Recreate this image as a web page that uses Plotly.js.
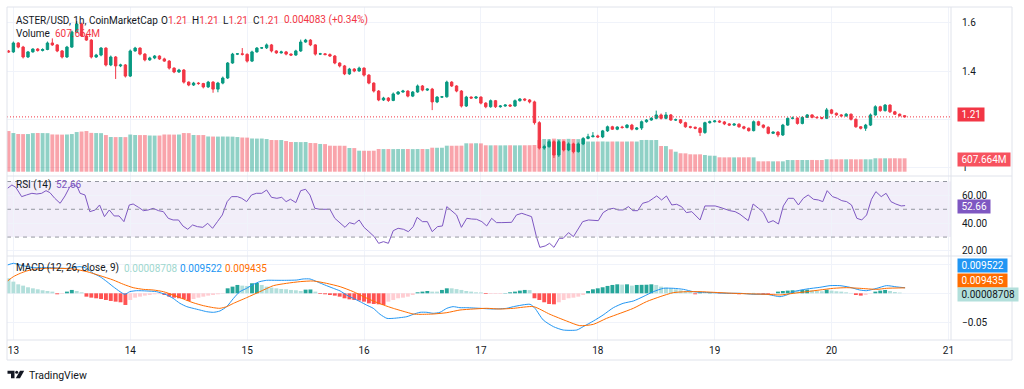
<!DOCTYPE html>
<html><head><meta charset="utf-8">
<script src="https://cdn.plot.ly/plotly-3.0.1.min.js"></script>
<style>html,body{margin:0;padding:0;background:#fff;}#chart{width:1024px;height:389px;}</style>
</head><body><div id="chart"></div>
<script>
// ---- data (hourly candles, index 0 = 12th 23:00) ----
const dayTicks = [1, 25, 49, 73, 97, 121, 145, 169, 193];
const dayLabels = ['13', '14', '15', '16', '17', '18', '19', '20', '21'];
const priceTicks = [1.0, 1.2, 1.4, 1.6];
const priceTickText = ['1', '', '1.4', '1.6'];      // 1.2 sits under the last-price tag
const rsiTicks = [20, 40, 60];
const rsiTickText = ['20.00', '40.00', '60.00'];
const macdTicks = [-0.05, 0, 0.05];
const macdTickText = ['\u22120.05', '', ''];       // 0 and 0.05 sit under the value tags

const firstOpen = 1.483;
const closes = [
1.479,1.516,1.499,1.458,1.479,1.491,1.485,1.489,1.516,1.508,
1.483,1.458,1.499,1.562,1.595,1.545,1.528,1.458,1.466,1.495,
1.425,1.458,1.421,1.425,1.379,1.483,1.495,1.470,1.446,1.454,
1.462,1.450,1.441,1.412,1.396,1.404,1.354,1.342,1.350,1.348,
1.334,1.354,1.325,1.350,1.371,1.433,1.470,1.471,1.469,1.441,
1.479,1.495,1.496,1.508,1.483,1.475,1.479,1.470,1.466,1.483,
1.520,1.528,1.508,1.470,1.471,1.468,1.462,1.433,1.421,1.388,
1.408,1.400,1.412,1.383,1.350,1.317,1.280,1.288,1.278,1.305,
1.313,1.317,1.296,1.313,1.338,1.321,1.325,1.272,1.292,1.293,
1.354,1.338,1.317,1.255,1.292,1.288,1.292,1.267,1.252,1.277,
1.252,1.255,1.259,1.255,1.277,1.284,1.280,1.272,1.186,1.081,
1.087,1.107,1.052,1.107,1.073,1.098,1.066,1.098,1.121,1.128,
1.131,1.127,1.152,1.169,1.159,1.168,1.166,1.176,1.159,1.164,
1.190,1.197,1.204,1.218,1.204,1.218,1.197,1.198,1.186,1.169,
1.167,1.163,1.145,1.186,1.190,1.193,1.189,1.181,1.176,1.180,
1.169,1.163,1.153,1.190,1.176,1.167,1.142,1.147,1.135,1.176,
1.204,1.205,1.183,1.208,1.218,1.208,1.207,1.204,1.239,1.225,
1.218,1.214,1.221,1.200,1.169,1.163,1.176,1.218,1.252,1.236,
1.259,1.231,1.221,1.215,1.210];
// wick lengths beyond the body, in thousandths of a dollar
const wickUp = [
4,6,3,5,4,3,4,5,6,19, 3,4,5,6,12,5,8,4,5,4, 3,6,4,5,4,6,5,3,4,5,
4,3,5,4,3,5,4,3,5,4, 3,5,4,5,6,4,5,3,24,4, 5,4,3,6,4,3,5,4,3,5,
10,5,4,3,4,3,5,4,3,4, 5,4,6,3,4,3,4,5,4,6, 4,5,3,4,6,4,3,5,4,3,
6,4,3,4,5,3,4,3,4,5, 3,4,3,4,5,4,3,4,5,6, 8,10,6,7,4,6,5,6,5,12,
16,5,4,5,4,3,5,4,5,4, 5,4,5,18,6,12,4,5,3,4, 4,3,5,4,5,4,3,4,3,4,
3,4,3,5,4,3,4,3,4,5, 4,6,3,5,4,3,4,3,8,4, 3,4,5,3,4,3,5,6,6,4,
4,3,4,3,2];
const wickDown = [
3,4,5,6,4,3,5,4,3,4, 5,6,4,3,5,4,3,6,4,5, 6,5,54,5,6,4,3,5,6,4,
5,4,3,6,5,4,6,5,4,5, 6,4,15,13,5,4,3,4,5,6, 4,3,4,5,6,4,3,5,4,3,
4,3,5,6,4,3,4,5,6,5, 4,5,3,6,5,6,5,4,6,3, 4,3,5,4,3,5,4,34,5,4,
3,4,5,6,4,3,4,5,6,4, 5,4,3,4,3,4,5,6,8,6, 7,5,12,8,6,5,7,4,5,4,
3,4,5,4,3,4,5,4,5,4, 8,4,3,4,5,4,3,4,5,4, 5,4,14,5,4,3,4,5,4,3,
4,5,4,3,4,5,4,3,9,4, 3,4,5,4,3,4,5,4,3,4, 4,3,4,5,4,5,11,4,3,5,
4,5,3,4,2];
// volume, millions
const volumes = [
1844,1753,1710,1705,1708,1750,1755,1752,1748,1690,
1685,1682,1688,1708,1798,1821,1844,1760,1753,1748,
1662,1575,1570,1572,1568,1685,1665,1660,1662,1642,
1638,1640,1688,1685,1682,1686,1753,1750,1665,1660,
1662,1598,1595,1592,1596,1594,1590,1572,1550,1546,
1506,1502,1504,1481,1438,1434,1436,1391,1348,1345,
1342,1346,1302,1298,1258,1252,1180,1176,1178,1175,
1076,1072,952,950,948,953,1030,1026,1028,1025,
1030,1027,1029,1024,1028,1031,1026,1088,1085,1087,
1180,1176,1178,1181,1288,1285,1290,1284,1198,1195,
1197,1193,1196,1199,1194,1196,1198,1200,1210,1436,
1481,1470,1500,1480,1475,1490,1484,1478,1486,1370,
1366,1368,1372,1365,1369,1370,1366,1368,1371,1367,
1436,1440,1434,1438,1166,1162,1015,906,836,832,
790,786,788,757,727,723,654,650,652,649,
653,651,655,650,472,470,473,469,471,470,
532,528,530,531,529,533,527,530,564,560,
562,563,561,565,559,562,563,561,609,606,
608,607,610,605,607.664];

const rsiHour = [-0.2,0.7,1.5,2.7,3.7,4.8,5.8,6.8,7.7,8.5,9.5,10.6,11.6,12.6,13.3,14.1,14.7,15.7,16.7,17.8,
18.7,19.7,20.7,21.7,22.7,23.7,24.8,25.6,26.7,27.7,28.7,29.7,30.8,31.8,32.8,33.8,34.9,35.8,36.8,37.8,
38.8,39.9,40.9,41.9,42.9,43.9,44.9,45.8,47.0,47.9,48.9,49.9,50.9,52.0,53.0,54.0,55.1,56.1,57.0,57.9,
59.0,60.0,61.0,61.9,62.9,63.9,65.0,66.0,67.0,68.1,69.1,70.0,71.0,72.0,73.0,74.0,75.1,76.0,77.0,78.0,
79.0,80.0,81.1,82.1,83.1,83.9,85.0,86.0,87.0,88.1,89.1,90.0,91.0,92.0,93.0,94.1,95.1,96.1,97.2,98.2,
99.2,100.2,101.3,102.3,103.3,104.3,105.4,106.4,107.4,108.4,109.1,110.2,111.1,112.0,113.1,113.9,115.0,116.0,117.9,119.1,
120.1,121.1,122.1,123.2,124.2,125.2,126.2,127.3,128.2,129.2,130.2,131.4,132.4,133.1,134.1,135.1,136.2,137.2,138.2,139.2,
140.3,142.0,143.0,144.0,145.1,146.1,147.1,148.1,149.2,150.2,151.9,152.9,154.0,155.0,156.0,157.0,158.1,159.1,160.1,161.2,
162.2,163.2,164.2,165.3,166.3,167.2,168.1,169.2,170.2,171.1,172.1,173.1,174.2,175.2,176.2,177.2,178.1,179.2,180.2,181.2,
182.2,183.3,184.1];
const rsiValue = [65.1,67.5,65.8,59.1,60.3,61.5,61.0,61.5,63.4,62.0,57.9,54.3,59.6,66.3,67.5,66.3,61.5,60.3,48.3,49.5,
53.1,44.7,49.5,45.2,45.2,41.1,53.1,53.8,51.4,49.0,49.5,50.7,49.0,48.3,43.5,42.3,42.3,38.0,35.6,38.7,
37.5,37.0,39.9,36.3,41.1,45.9,55.5,59.1,59.1,57.9,55.5,60.3,61.5,61.5,63.9,58.6,57.9,58.6,55.5,57.2,
54.8,63.4,64.4,60.3,50.7,50.0,50.0,50.0,43.5,40.4,37.0,40.4,39.4,42.3,37.0,33.9,30.3,25.5,26.7,25.5,
34.6,36.3,35.6,33.9,37.5,44.2,41.1,41.1,33.9,37.5,38.0,51.9,49.0,45.9,37.0,43.5,43.0,42.8,41.1,38.0,
43.5,40.4,40.4,40.6,40.6,45.9,47.1,45.9,44.7,30.3,22.6,23.6,25.5,22.6,29.1,29.1,33.2,30.3,41.1,42.3,
41.8,41.8,47.6,50.0,50.7,49.5,49.5,51.9,49.0,49.0,54.3,55.5,57.9,59.6,56.7,59.6,53.1,53.6,51.9,47.6,
48.3,42.3,52.4,52.6,52.4,51.4,50.0,49.0,48.3,46.4,41.8,53.8,50.7,47.6,40.4,41.8,39.4,52.4,57.9,57.9,
53.1,57.9,60.3,57.2,56.7,55.5,63.4,59.1,57.9,56.2,55.5,53.1,43.5,42.3,45.9,57.2,62.7,59.1,61.5,55.5,
53.8,52.4,52.66];

const macdHour = [-0.2,1.0,2.4,5.1,8.5,11.9,14.7,16.1,17.4,18.8,20.2,21.5,22.9,23.9,24.9,26.3,28.4,30.4,32.5,33.8,
35.2,36.6,37.9,39.3,40.7,42.1,43.4,44.8,46.2,47.5,48.9,50.3,51.6,53.0,55.1,57.1,59.2,60.5,61.9,63.3,
65.3,66.7,68.1,69.4,70.8,72.2,73.5,74.9,76.3,77.7,79.0,80.4,81.8,83.1,84.5,85.9,87.2,88.6,90.0,91.3,
92.7,94.1,96.8,99.6,102.3,103.7,107.1,108.1,109.8,111.9,113.9,116.7,118.0,120.1,122.1,124.2,126.2,128.3,130.3,132.4,
134.5,136.5,138.6,140.6,142.0,144.7,147.5,150.2,152.9,155.7,158.4,159.8,161.2,163.9,166.6,168.7,170.7,172.8,174.8,176.2,
178.3,180.3,182.4,184.1];
const macdValue = [0.0488,0.0517,0.0488,0.0442,0.0442,0.0430,0.0459,0.0430,0.0344,0.0287,0.0201,0.0114,0.0028,-0.0018,0.0028,0.0045,0.0040,0.0028,-0.0029,-0.0087,
-0.0173,-0.0230,-0.0259,-0.0288,-0.0317,-0.0328,-0.0305,-0.0230,-0.0087,0.0028,0.0086,0.0155,0.0201,0.0224,0.0224,0.0224,0.0229,0.0247,0.0247,0.0201,
0.0132,0.0086,0.0040,-0.0029,-0.0087,-0.0144,-0.0202,-0.0259,-0.0363,-0.0432,-0.0432,-0.0420,-0.0403,-0.0363,-0.0328,-0.0328,-0.0345,-0.0328,-0.0259,-0.0230,
-0.0248,-0.0248,-0.0259,-0.0271,-0.0259,-0.0230,-0.0190,-0.0259,-0.0460,-0.0575,-0.0633,-0.0633,-0.0575,-0.0478,-0.0374,-0.0248,-0.0173,-0.0133,-0.0058,0.0028,
0.0086,0.0086,0.0068,0.0028,0.0017,0.0011,0.0000,0.0000,-0.0017,-0.0017,-0.0058,-0.0029,0.0028,0.0074,0.0103,0.0132,0.0132,0.0103,0.0057,0.0045,
0.0086,0.0132,0.0110,0.009522];
const signalHour = [-0.2,1.0,2.4,3.7,5.1,7.8,10.6,13.3,16.1,18.8,21.5,23.6,25.6,27.7,29.7,31.8,33.8,35.9,37.9,40.0,
42.1,43.4,44.8,46.2,48.9,51.6,54.4,57.1,59.9,62.6,65.3,68.1,70.8,72.9,74.9,77.0,79.0,81.8,83.1,84.5,
87.2,90.0,92.7,95.4,98.2,100.9,103.7,107.8,111.2,114.6,117.3,120.1,122.8,125.6,128.3,131.0,133.8,136.5,139.2,142.0,
144.7,148.8,152.9,155.7,158.4,161.2,163.9,166.6,169.4,172.1,174.8,178.3,180.3,184.1];
const signalValue = [0.0212,0.0287,0.0344,0.0384,0.0413,0.0430,0.0430,0.0419,0.0373,0.0304,0.0229,0.0155,0.0097,0.0068,0.0057,0.0028,-0.0029,-0.0098,-0.0162,-0.0213,
-0.0248,-0.0259,-0.0230,-0.0173,-0.0075,0.0028,0.0132,0.0172,0.0201,0.0212,0.0172,0.0114,0.0028,-0.0058,-0.0133,-0.0202,-0.0259,-0.0328,-0.0357,-0.0363,
-0.0357,-0.0334,-0.0288,-0.0271,-0.0259,-0.0271,-0.0259,-0.0230,-0.0363,-0.0478,-0.0558,-0.0535,-0.0432,-0.0345,-0.0259,-0.0144,-0.0058,0.0011,0.0028,0.0028,
0.0017,0.0000,-0.0011,-0.0017,-0.0029,0.0000,0.0028,0.0057,0.0086,0.0097,0.0086,0.0068,0.0086,0.009435];
const histValue = [
0.0259,0.0201,0.0155,0.0132,0.0104,0.0086,0.0069,0.0052,0.0040,0.0029,
-0.0017,-0.0010,0.0029,0.0058,0.0040,0.0017,-0.0058,-0.0075,-0.0086,-0.0098,
-0.0115,-0.0132,-0.0144,-0.0155,-0.0201,-0.0115,-0.0075,-0.0058,-0.0040,-0.0029,
-0.0017,-0.0014,-0.0029,-0.0058,-0.0075,-0.0086,-0.0098,-0.0132,-0.0098,-0.0075,
-0.0058,-0.0040,-0.0029,-0.0017,-0.0006,0.0086,0.0115,0.0144,0.0132,0.0127,
0.0173,0.0178,0.0144,0.0115,0.0098,0.0086,0.0075,0.0070,0.0058,0.0052,
0.0040,0.0063,0.0066,0.0029,-0.0012,-0.0017,-0.0029,-0.0040,-0.0058,-0.0086,
-0.0104,-0.0115,-0.0125,-0.0144,-0.0173,-0.0184,-0.0190,-0.0201,-0.0144,-0.0115,
-0.0086,-0.0075,-0.0058,-0.0029,0.0017,0.0029,0.0040,0.0029,0.0029,0.0058,
0.0086,0.0086,0.0072,0.0058,0.0040,0.0029,0.0017,0.0015,-0.0012,-0.0012,
-0.0012,-0.0012,0.0005,0.0017,0.0029,0.0046,0.0058,0.0055,-0.0086,-0.0115,
-0.0155,-0.0184,-0.0190,-0.0155,-0.0115,-0.0086,-0.0075,-0.0058,-0.0029,0.0040,
0.0069,0.0086,0.0104,0.0127,0.0144,0.0155,0.0150,0.0155,0.0132,0.0144,
0.0146,0.0148,0.0155,0.0144,0.0115,0.0098,0.0086,0.0069,0.0052,0.0040,
0.0029,-0.0017,0.0017,0.0012,0.0017,0.0006,-0.0006,0.0003,-0.0006,-0.0012,
-0.0017,-0.0012,0.0003,0.0006,-0.0006,-0.0023,-0.0029,-0.0023,0.0029,0.0040,
0.0046,0.0052,0.0046,0.0058,0.0063,0.0052,0.0040,0.0035,0.0063,0.0046,
0.0035,0.0029,0.0017,0.0006,-0.0029,-0.0040,-0.0029,-0.0006,0.0029,0.0046,
0.0058,0.0040,0.0023,0.0012,0.00008708];

// ---- derived series ----
const hours = closes.map((_, i) => i);
const opens = closes.map((c, i) => i === 0 ? firstOpen : closes[i - 1]);
const highs = closes.map((c, i) => Math.max(opens[i], c) + wickUp[i] / 1000);
const lows = closes.map((c, i) => Math.min(opens[i], c) - wickDown[i] / 1000);
const UP = '#089981', DOWN = '#f23645';
const volColors = closes.map((c, i) => c >= opens[i] ? 'rgba(8,153,129,0.45)' : 'rgba(242,54,69,0.45)');
const histColors = histValue.map((h, i) => {
  const prev = i === 0 ? h : histValue[i - 1];
  if (h >= 0) return h > prev ? '#26a69a' : '#b2dfdb';
  return h < prev ? '#ff5252' : '#ffcdd2';
});

// ---- pixel helpers for overlays ----
const PL = 7, PR = 951, PT = 7, PB = 340;
const px = x => (x - PL) / (PR - PL);
const py = y => (PB - y) / (PB - PT);
const FONT = 'Roboto, "Open Sans", sans-serif';
const INK = '#131722';

const traces = [
  {type: 'bar', x: hours, y: volumes, xaxis: 'x', yaxis: 'y', marker: {color: volColors, line: {width: 0}}, hoverinfo: 'skip'},
  {type: 'candlestick', x: hours, open: opens, high: highs, low: lows, close: closes, xaxis: 'x', yaxis: 'y2',
   increasing: {line: {color: UP, width: 1}, fillcolor: UP},
   decreasing: {line: {color: DOWN, width: 1}, fillcolor: DOWN},
   whiskerwidth: 0, hoverinfo: 'skip'},
  {type: 'scatter', mode: 'lines', x: rsiHour, y: rsiValue, xaxis: 'x', yaxis: 'y3', line: {color: '#7e57c2', width: 1}, hoverinfo: 'skip'},
  {type: 'bar', x: hours, y: histValue, xaxis: 'x', yaxis: 'y4', marker: {color: histColors, line: {width: 0}}, hoverinfo: 'skip'},
  {type: 'scatter', mode: 'lines', x: macdHour, y: macdValue, xaxis: 'x', yaxis: 'y4', line: {color: '#2196f3', width: 1, shape: 'spline', smoothing: 0.6}, hoverinfo: 'skip'},
  {type: 'scatter', mode: 'lines', x: signalHour, y: signalValue, xaxis: 'x', yaxis: 'y4', line: {color: '#ff6d00', width: 1, shape: 'spline', smoothing: 0.6}, hoverinfo: 'skip'}
];

const yCommon = {side: 'right', anchor: 'x', showline: false, zeroline: false, ticks: '', ticklabelstandoff: 10,
  gridcolor: '#f0f3fa', gridwidth: 1, tickfont: {size: 10, color: INK, family: FONT}, fixedrange: true};

const sep = '#e0e3eb';
const shapes = [
  // RSI band and levels
  {type: 'rect', xref: 'x domain', yref: 'y3', x0: 0, x1: 1, y0: 30, y1: 70, fillcolor: 'rgba(126,87,194,0.1)', line: {width: 0}, layer: 'below'},
  {type: 'line', xref: 'x domain', yref: 'y3', x0: 0, x1: 1, y0: 70, y1: 70, line: {color: '#9598a1', width: 1, dash: '4px,4px'}},
  {type: 'line', xref: 'x domain', yref: 'y3', x0: 0, x1: 1, y0: 50, y1: 50, line: {color: '#9598a1', width: 1, dash: '4px,4px'}},
  {type: 'line', xref: 'x domain', yref: 'y3', x0: 0, x1: 1, y0: 30, y1: 30, line: {color: '#9598a1', width: 1, dash: '4px,4px'}},
  // last price line
  {type: 'line', xref: 'x domain', yref: 'y2', x0: 0, x1: 1, y0: 1.21, y1: 1.21, line: {color: DOWN, width: 1, dash: '1px,2px'}},
  // frame & separators
  {type: 'rect', xref: 'paper', yref: 'paper', x0: px(7), x1: px(1012), y0: py(360), y1: py(7), line: {color: sep, width: 1}, fillcolor: 'rgba(0,0,0,0)'},
  {type: 'line', xref: 'paper', yref: 'paper', x0: px(951), x1: px(951), y0: py(340), y1: py(7), line: {color: sep, width: 1}},
  {type: 'line', xref: 'paper', yref: 'paper', x0: px(7), x1: px(1012), y0: py(340), y1: py(340), line: {color: sep, width: 1}},
  {type: 'line', xref: 'paper', yref: 'paper', x0: px(7), x1: px(1012), y0: py(176), y1: py(176), line: {color: sep, width: 1}},
  {type: 'line', xref: 'paper', yref: 'paper', x0: px(7), x1: px(1012), y0: py(256), y1: py(256), line: {color: sep, width: 1}},
  // TradingView logo
  {type: 'path', xref: 'paper', yref: 'paper', path: `M${px(7.5)},${py(370.7)} L${px(14.5)},${py(370.7)} L${px(14.5)},${py(378.3)} L${px(11)},${py(378.3)} L${px(11)},${py(373.8)} L${px(7.5)},${py(373.8)} Z`, fillcolor: INK, line: {width: 0}},
  {type: 'circle', xref: 'paper', yref: 'paper', x0: px(15.2), x1: px(18.2), y0: py(373.8), y1: py(370.8), fillcolor: INK, line: {width: 0}},
  {type: 'path', xref: 'paper', yref: 'paper', path: `M${px(20)},${py(370.7)} L${px(24.2)},${py(370.7)} L${px(20)},${py(378.3)} L${px(15.8)},${py(378.3)} Z`, fillcolor: INK, line: {width: 0}}
];

function txt(x, y, text, color, size) {
  return {xref: 'paper', yref: 'paper', x: px(x), y: py(y), xanchor: 'left', yanchor: 'middle', text: text, showarrow: false,
          font: {size: size || 10, color: color || INK, family: FONT}};
}
function tag(y, text, bg, fg) {
  return {xref: 'paper', yref: 'paper', x: px(957.5), y: py(y), xanchor: 'left', yanchor: 'middle',
          text: '\u00a0' + text + '\u00a0', showarrow: false, bgcolor: bg, borderpad: 1,
          font: {size: 10, color: fg || '#ffffff', family: FONT}};
}
const red = s => `<span style="color:${DOWN}">${s}</span>`;
const annotations = [
  txt(14, 20, 'ASTER/USD, 1h, CoinMarketCap'),
  txt(159, 20, 'O' + red('1.21')),
  txt(190, 20, 'H' + red('1.21')),
  txt(221, 20, 'L' + red('1.21')),
  txt(251, 20, 'C' + red('1.21')),
  txt(282, 20, '0.004083 (+0.34%)', DOWN),
  txt(14, 34, 'Volume'),
  txt(53, 34, '607.664M', DOWN),
  txt(14, 185, 'RSI (14)'),
  txt(54, 185, '52.66', '#7e57c2'),
  txt(14, 268.3, 'MACD (12, 26, close, 9)'),
  txt(122, 268.3, '0.00008708', '#9fd8cf'),
  txt(178, 268.3, '0.009522', '#2196f3'),
  txt(223, 268.3, '0.009435', '#ff6d00'),
  txt(26.5, 375, 'TradingView', INK, 10.5),
  tag(114.5, '1.21', DOWN),
  tag(159, '607.664M', '#f7525f'),
  tag(206.3, '52.66', '#7e57c2'),
  tag(265.7, '0.009522', '#2196f3'),
  tag(280, '0.009435', '#ff6d00'),
  tag(294.2, '0.00008708', '#b2dfdb', INK)
];

const layout = {
  width: 1024, height: 389,
  margin: {l: PL, r: 1024 - PR, t: PT, b: 389 - PB, pad: 0},
  paper_bgcolor: '#ffffff', plot_bgcolor: 'rgba(0,0,0,0)',
  showlegend: false, bargap: 0.2, hovermode: false,
  font: {family: FONT, size: 10, color: INK},
  xaxis: {domain: [0, 1], anchor: 'y4', range: [-0.31, 193.53], tickvals: dayTicks, ticktext: dayLabels,
          showgrid: true, gridcolor: '#f0f3fa', zeroline: false, showline: false, ticks: '', ticklabelstandoff: 3,
          tickfont: {size: 10, color: INK, family: FONT}, rangeslider: {visible: false}, fixedrange: true},
  yaxis: {domain: [py(176), 1], range: [-195, 7469], visible: false, showgrid: false, zeroline: false, fixedrange: true},
  yaxis2: Object.assign({}, yCommon, {overlaying: 'y', range: [0.96522, 1.66501], tickvals: priceTicks, ticktext: priceTickText}),
  yaxis3: Object.assign({}, yCommon, {domain: [py(256), py(176)], range: [16.37, 73.96], tickvals: rsiTicks, ticktext: rsiTickText}),
  yaxis4: Object.assign({}, yCommon, {domain: [0, py(256)], range: [-0.08052, 0.06431], tickvals: macdTicks, ticktext: macdTickText}),
  shapes: shapes,
  annotations: annotations
};

Plotly.newPlot('chart', traces, layout, {staticPlot: true, displayModeBar: false});
</script>
</body></html>
